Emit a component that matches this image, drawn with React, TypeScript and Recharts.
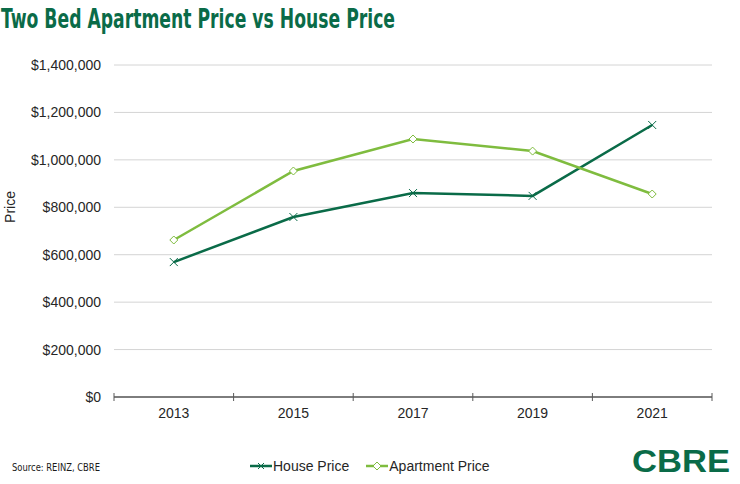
import React from 'react';
import { LineChart, Line, XAxis, YAxis, CartesianGrid, Legend } from 'recharts';

const years = ['2013', '2015', '2017', '2019', '2021'];
const housePrice = [569000, 759000, 860000, 848000, 1147000];
const apartmentPrice = [662000, 953000, 1088000, 1037000, 856000];
const yTicks = [0, 200000, 400000, 600000, 800000, 1000000, 1200000, 1400000];
const seriesOrder = ['house', 'apartment'];

const HOUSE = '#0a6b48';
const APT = '#7fbc3f';
const TEXT = '#262626';
const FONT = '"Liberation Sans", Arial, sans-serif';

const data = years.map((y, i) => ({ year: y, house: housePrice[i], apartment: apartmentPrice[i] }));

const fmt = (v: number) => '$' + v.toLocaleString('en-US');

const CrossDot = (p: any) => {
  const { cx, cy } = p;
  if (cx == null || cy == null) return null;
  const s = 4;
  return (
    <path
      key={`c-${p.index}`}
      d={`M${cx - s},${cy - s}L${cx + s},${cy + s}M${cx - s},${cy + s}L${cx + s},${cy - s}`}
      stroke={HOUSE}
      strokeWidth={1}
      fill="none"
    />
  );
};

const DiamondDot = (p: any) => {
  const { cx, cy } = p;
  if (cx == null || cy == null) return null;
  const s = 4;
  return (
    <path
      key={`d-${p.index}`}
      d={`M${cx},${cy - s}L${cx + s},${cy}L${cx},${cy + s}L${cx - s},${cy}Z`}
      stroke={APT}
      strokeWidth={1}
      fill="#fff"
    />
  );
};

const XTick = (p: any) => {
  const { x, y, payload, index, visibleTicksCount } = p;
  const off = payload && typeof payload.offset === 'number' ? payload.offset : 0;
  const last = index === (visibleTicksCount ?? years.length) - 1;
  return (
    <g>
      <line x1={x - off} x2={x - off} y1={y - 4} y2={y + 4} stroke="#595959" strokeWidth={1} />
      {last && <line x1={x + off} x2={x + off} y1={y - 4} y2={y + 4} stroke="#595959" strokeWidth={1} />}
      <text x={x} y={y + 21} textAnchor="middle" fontSize={14} fontFamily={FONT} fill={TEXT}>
        {payload.value}
      </text>
    </g>
  );
};

const LegendContent = (props: any) => {
  const items = [...(props.payload || [])].sort(
    (a: any, b: any) => seriesOrder.indexOf(a.dataKey) - seriesOrder.indexOf(b.dataKey)
  );
  return (
    <div style={{ display: 'flex', alignItems: 'center', fontFamily: FONT, fontSize: 14, color: TEXT, whiteSpace: 'nowrap' }}>
      {items.map((it: any, i: number) => {
        const isHouse = it.dataKey === 'house';
        const c = isHouse ? HOUSE : APT;
        return (
          <div key={i} style={{ display: 'flex', alignItems: 'center', marginRight: i === 0 ? 17 : 0 }}>
            <svg width={22} height={10} style={{ display: 'block', marginRight: 1 }}>
              <line x1={0} x2={22} y1={5} y2={5} stroke={c} strokeWidth={2.5} />
              {isHouse ? (
                <path d="M8,2L14,8M8,8L14,2" stroke={c} strokeWidth={1} fill="none" />
              ) : (
                <path d="M11,1L15,5L11,9L7,5Z" stroke={c} strokeWidth={1} fill="#fff" />
              )}
            </svg>
            <span>{it.value}</span>
          </div>
        );
      })}
    </div>
  );
};

export default function App() {
  return (
    <div style={{ position: 'absolute', left: 0, top: 0, width: 740, height: 484, background: '#fff', overflow: 'hidden' }}>
      <LineChart width={740} height={484} data={data} margin={{ top: 65, right: 28, bottom: 57, left: 14 }}>
        <CartesianGrid vertical={false} stroke="#d4d4d4" strokeWidth={1} />
        <XAxis
          dataKey="year"
          scale="band"
          tickLine={false}
          tickSize={0}
          tickMargin={0}
          axisLine={{ stroke: '#595959', strokeWidth: 1.5 }}
          tick={<XTick />}
          interval={0}
        />
        <YAxis
          width={100}
          domain={[0, 1400000]}
          ticks={yTicks}
          tickFormatter={fmt}
          axisLine={false}
          tickLine={false}
          tickMargin={7}
          tick={{ fontSize: 14, fontFamily: FONT, fill: TEXT }}
          interval={0}
        />
        <Legend
          layout="horizontal"
          verticalAlign="middle"
          align="center"
          itemSorter={null as any}
          content={<LegendContent />}
          wrapperStyle={{ position: 'absolute', left: 250, top: 458, width: 'auto', height: 18 }}
        />
        <Line
          type="linear"
          dataKey="house"
          name="House Price"
          stroke={HOUSE}
          strokeWidth={2.5}
          dot={CrossDot}
          activeDot={false}
          isAnimationActive={false}
        />
        <Line
          type="linear"
          dataKey="apartment"
          name="Apartment Price"
          stroke={APT}
          strokeWidth={2.5}
          dot={DiamondDot}
          activeDot={false}
          isAnimationActive={false}
        />
      </LineChart>
      <svg width={740} height={484} style={{ position: 'absolute', left: 0, top: 0, pointerEvents: 'none' }}>
        <text
          x={1}
          y={28}
          fontSize={27}
          fontWeight="bold"
          fontFamily='"Liberation Sans Narrow", "DejaVu Sans Condensed", "Liberation Sans", sans-serif'
          fill={HOUSE}
          textLength={394}
          lengthAdjust="spacingAndGlyphs"
        >
          Two Bed Apartment Price vs House Price
        </text>
        <text
          x={15}
          y={207}
          fontSize={14}
          fontFamily={FONT}
          fill={TEXT}
          textAnchor="middle"
          transform="rotate(-90 15 207)"
        >
          Price
        </text>
        <text
          x={12}
          y={471}
          fontSize={11}
          fontFamily='"Liberation Sans Narrow", "DejaVu Sans Condensed", "Liberation Sans", sans-serif'
          fill="#1a1a1a"
          textLength={88}
          lengthAdjust="spacingAndGlyphs"
        >
          Source: REINZ, CBRE
        </text>
        <text
          x={632}
          y={472}
          fontSize={31}
          fontWeight="bold"
          fontFamily={FONT}
          fill={HOUSE}
          textLength={98}
          lengthAdjust="spacingAndGlyphs"
        >
          CBRE
        </text>
      </svg>
    </div>
  );
}
